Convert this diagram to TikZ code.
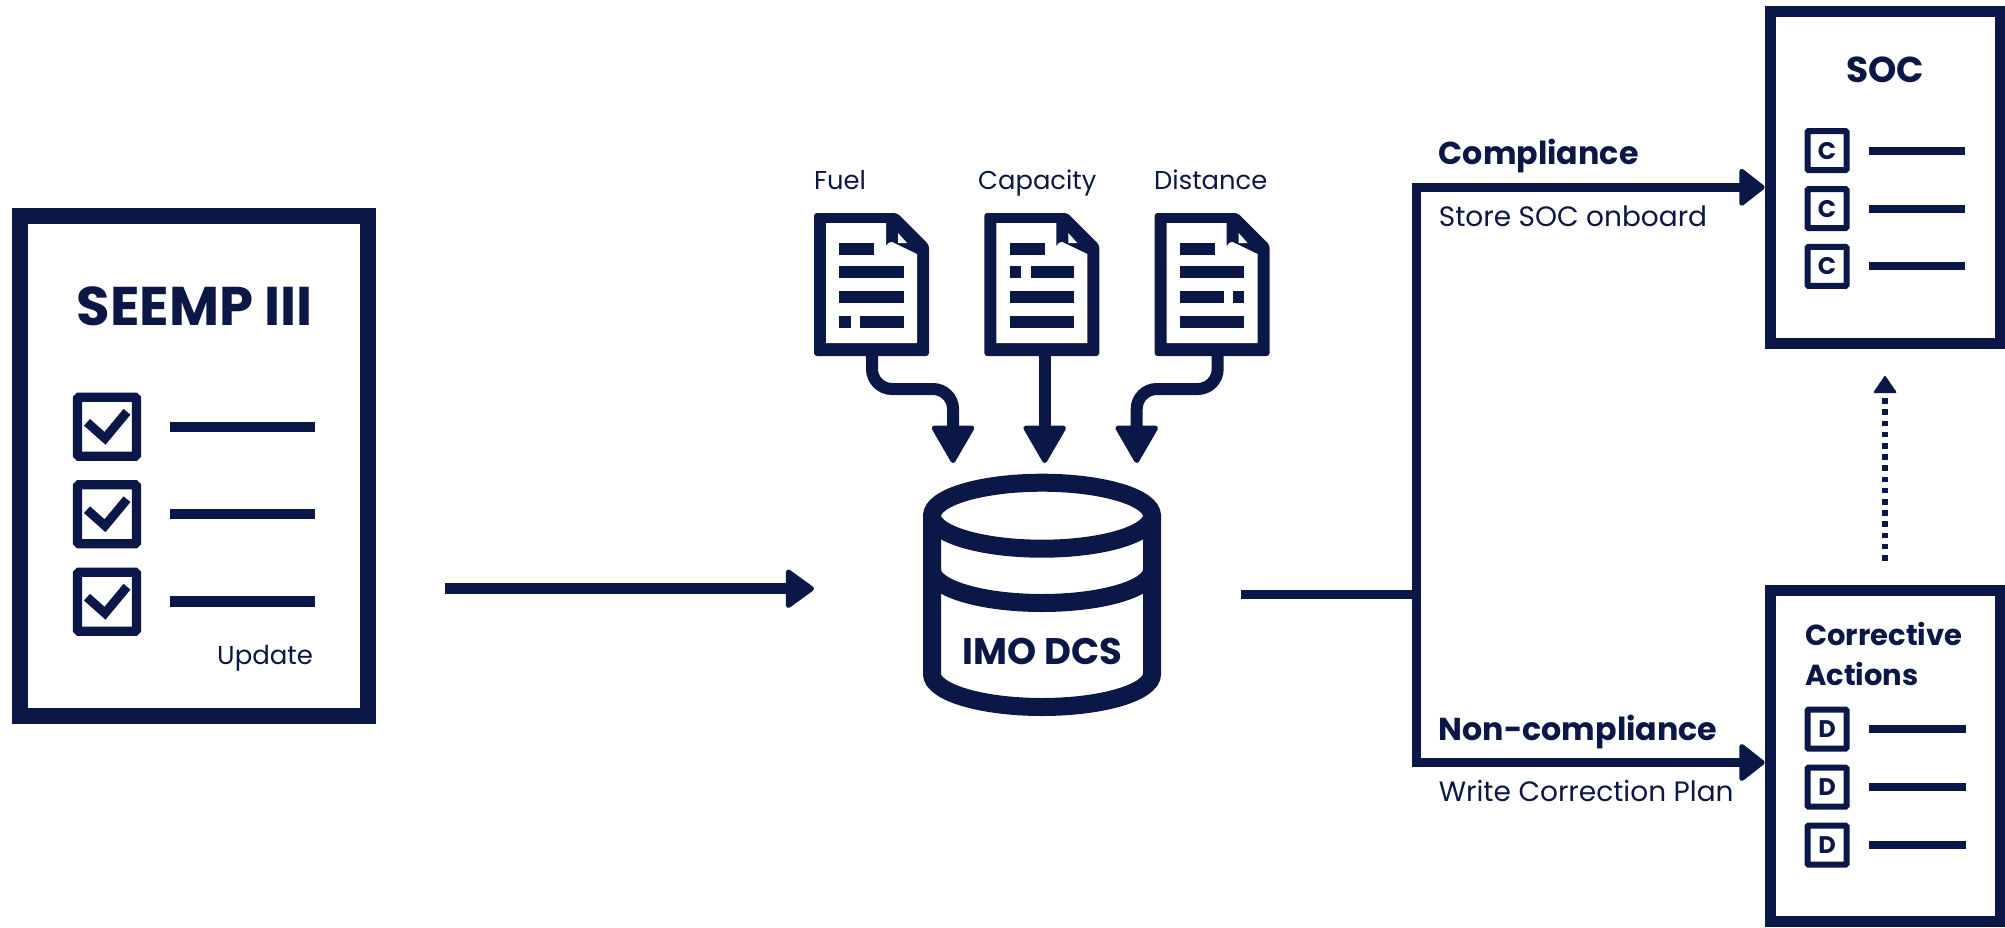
\documentclass[tikz,border=0pt]{standalone}
\usepackage{fontspec}
\setmainfont{Poppins}
\usetikzlibrary{arrows.meta}
\definecolor{navy}{HTML}{0B1746}
\tikzset{
  lbl/.style={anchor=base west,inner sep=0pt,text=navy,font=\fontsize{#1}{#1}\selectfont},
  blbl/.style={anchor=base west,inner sep=0pt,text=navy,font=\fontsize{#1}{#1}\selectfont\bfseries},
  bigbox/.style={draw=navy,fill=white,line width=#1,inner sep=0pt},
  chk/.style={draw=navy,line width=9.3pt,rounded corners=1.5pt,minimum size=59pt,inner sep=0pt},
  letbox/.style={draw=navy,line width=6pt,rounded corners=1pt,minimum size=39pt,inner sep=0pt,text=navy,font=\fontsize{24}{24}\selectfont\bfseries},
  bar/.style={fill=navy,draw=none},
  rowline/.style={draw=navy,line width=#1},
  conn/.style={draw=navy,line width=#1},
  dochead/.style={-{Triangle[length=40pt,width=45pt,round,line width=5pt]}},
  mainhead/.style={-{Triangle[length=30pt,width=42pt,round,line width=5pt]}},
  midhead/.style={-{Triangle[length=27pt,width=41pt,round,line width=5pt]}},
}
% doc icon: #1 x offset, #2 name of bottom coordinate, #3 x of the stem
\newcommand{\docicon}[3]{%
  \begin{scope}[xshift=#1pt]
    \fill[navy,rounded corners=3pt] (814,213) -- (897,213) -- (929,245) -- (929,356) -- (814,356) -- cycle;
    \fill[white] (826,223) -- (886,223) -- (886,248) arc[start angle=180,end angle=270,radius=6] -- (917,254) -- (917,343) -- (826,343) -- cycle;
    \fill[white] (898,233) -- (907,243) -- (898,243) -- cycle;
    \fill[bar] (839.3,242.7) rectangle (874.3,254.7);
  \end{scope}
  \coordinate (#2) at (#3,356);
}
\begin{document}
\begin{tikzpicture}[x=1pt,y=-1pt]
\useasboundingbox (0,0) rectangle (2005,927);

% SEEMP III
\node[bigbox=16pt,minimum width=348pt,minimum height=500.3pt] (seemp) at (194,466) {};
\node[blbl=54.5] (seemptitle) at (76.5,325) {SEEMP III};
\foreach \n/\y in {a/426.8,b/514.2,c/601.7}{
  \node[chk] (chk\n) at (107,\y) {};
  \draw[navy,line width=9pt] (87,\y-4.5) -- (105,\y+11.5) -- (127,\y-15);
  \draw[rowline=10.5pt] (170,\y) -- (315,\y);
}
\node[lbl=26] (update) at (217,664) {Update};

% Document icons
\node[lbl=25.8] (fuel) at (814,189.3) {Fuel};
\node[lbl=25.8] (capacity) at (978,189.3) {Capacity};
\node[lbl=25.8] (distance) at (1154,189.3) {Distance};
\docicon{0}{d1}{872}
\docicon{170.3}{d2}{1044.7}
\docicon{340.6}{d3}{1217.7}
% bars of document 1
\fill[bar] (839.3,265.7) rectangle (903.7,278);
\fill[bar] (839.3,290.7) rectangle (903.7,302.7);
\fill[bar] (839.3,315.7) rectangle (851,328);
\fill[bar] (860.3,315.7) rectangle (903.7,328);
% bars of document 2
\fill[bar] (1009.6,265.7) rectangle (1021.3,278);
\fill[bar] (1031.3,265.7) rectangle (1074,278);
\fill[bar] (1009.6,290.7) rectangle (1074,302.7);
\fill[bar] (1009.6,315.7) rectangle (1074,328);
% bars of document 3
\fill[bar] (1180,265.7) rectangle (1244.3,278);
\fill[bar] (1180,290.7) rectangle (1224,302.7);
\fill[bar] (1232.6,290.7) rectangle (1244.3,302.7);
\fill[bar] (1180,315.7) rectangle (1244.3,328);

% IMO DCS database
\begin{scope}[navy,line width=18pt]
  \draw (1042,515.7) ellipse[x radius=110,y radius=33];
  \draw (932,515.7) -- (932,674) arc[start angle=180,end angle=0,x radius=110,y radius=33] -- (1152,515.7);
  \draw (932,570) arc[start angle=180,end angle=0,x radius=110,y radius=33];
\end{scope}
\node[blbl=37] (dcs) at (962.7,664) {IMO DCS};
\coordinate (t1) at (953,463);
\coordinate (t2) at (1044.7,463);
\coordinate (t3) at (1136.7,463);
\coordinate (m1) at (953,389);
\coordinate (m3) at (1136.7,389);

% Document to database
\draw[conn=12pt,dochead,rounded corners=20pt] (d1) |- (m1) -- (t1);
\draw[conn=12pt,dochead] (d2) -- (t2);
\draw[conn=12pt,dochead,rounded corners=20pt] (d3) |- (m3) -- (t3);

% SEEMP to database
\coordinate (mainstart) at (444.7,588.7);
\coordinate (mainend) at (814,588.7);
\draw[conn=10.5pt,mainhead] (mainstart) -- (mainend);

% Boxes on the right
\node[bigbox=11pt,minimum width=230pt,minimum height=332pt] (soc) at (1885,177) {};
\node[bigbox=11pt,minimum width=230pt,minimum height=331pt] (corr) at (1885,755.5) {};
\node[blbl=36] (soctitle) at (1846,82) {SOC};
\node[blbl=29] (corr1) at (1805,645.5) {Corrective};
\node[blbl=29] (corr2) at (1805,685) {Actions};
\foreach \n/\y in {a/150.7,b/208.7,c/266.3}{
  \node[letbox] (c\n) at (1827,\y) {C};
  \draw[rowline=8pt] (1868.7,\y) -- (1965.2,\y);
}
\foreach \n/\y in {a/729.2,b/787.2,c/845.2}{
  \node[letbox] (e\n) at (1827,\y) {D};
  \draw[rowline=8pt] (1869,\y) -- (1965.5,\y);
}

% Branch
\coordinate (stub) at (1240.6,594.6);
\coordinate (junc) at (1416.4,594.6);
\coordinate (socin) at (1764.6,187.3);
\coordinate (corrin) at (1764.6,762.5);
\draw[conn=9.5pt] (stub) -- (junc);
\draw[conn=9.5pt,midhead] (junc) |- (socin);
\draw[conn=9.5pt,midhead] (junc) |- (corrin);
\node[blbl=31.7] (compl) at (1438.6,164) {Compliance};
\node[lbl=28] (store) at (1438.6,226.7) {Store SOC onboard};
\node[blbl=31.7] (noncompl) at (1438.6,740) {Non-compliance};
\node[lbl=28] (write) at (1438.6,801.7) {Write Correction Plan};

% Dotted arrow
\coordinate (dotstart) at (1885,560.5);
\coordinate (dotend) at (1885,376);
\draw[navy,line width=5.5pt,dash pattern=on 5.5pt off 5.7pt,-{Triangle[length=18pt,width=24pt,round,line width=2pt,sep=0pt]}] (dotstart) -- (dotend);
\end{tikzpicture}
\end{document}
